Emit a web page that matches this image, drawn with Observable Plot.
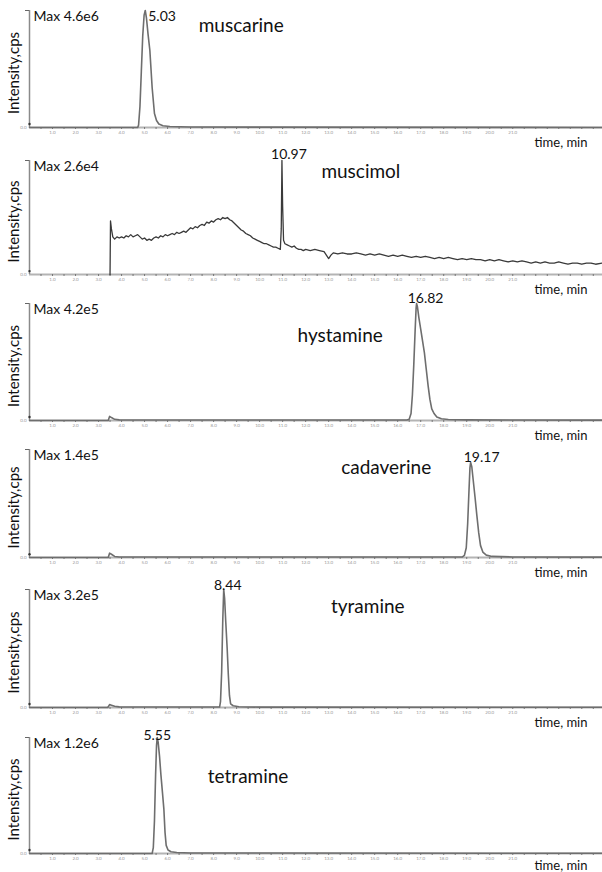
<!DOCTYPE html>
<html><head><meta charset="utf-8">
<script src="https://cdn.jsdelivr.net/npm/d3@7"></script>
<script src="https://cdn.jsdelivr.net/npm/@observablehq/plot@0.6"></script>
<style>body{margin:0;background:#fff;} #c svg{display:block;overflow:visible;}</style>
</head><body><div id="c"></div>
<script>
// ---- data ----
const compounds = ["muscarine", "muscimol", "hystamine", "cadaverine", "tyramine", "tetramine"];
const maxLabels = ["Max 4.6e6", "Max 2.6e4", "Max 4.2e5", "Max 1.4e5", "Max 3.2e5", "Max 1.2e6"];
const peakTimes = [5.03, 10.97, 16.82, 19.17, 8.44, 5.55];
const peakHeights = [100, 100, 100, 88, 100, 100];
const peakLabels = ["5.03", "10.97", "16.82", "19.17", "8.44", "5.55"];
const timeTicks = [1,2,3,4,5,6,7,8,9,10,11,12,13,14,15,16,17,18,19,20,21,22,23,24];
const minorTicks = [0.5,1.5,2.5,3.5,4.5,5.5,6.5,7.5,8.5,9.5,10.5,11.5,12.5,13.5,14.5,15.5,16.5,17.5,18.5,19.5,20.5,21.5,22.5,23.5,24.5];

// traces: time (min) and intensity (% of panel max)
const muscarineT = [0, 4.70, 4.74, 4.80, 4.86, 4.92, 4.98, 5.03, 5.08, 5.15, 5.23, 5.33, 5.43, 5.52, 5.62, 5.80, 6.10, 7.0, 24.9];
const muscarineI = [0, 0, 2, 18, 48, 78, 96, 100, 94, 80, 66, 34, 12, 6, 3, 1.5, 0.8, 0.4, 0];

const muscimolT = [3.50, 3.52, 3.56, 3.62, 3.7, 3.8, 3.9, 4.0, 4.1, 4.2, 4.3, 4.4, 4.5, 4.6, 4.7, 4.8, 4.9, 5.0, 5.1, 5.2, 5.3, 5.4, 5.5, 5.6, 5.7, 5.8, 5.9, 6.0, 6.1, 6.2, 6.3, 6.4, 6.5, 6.6, 6.7, 6.8, 6.9, 7.0, 7.1, 7.2, 7.3, 7.4, 7.5, 7.6, 7.7, 7.8, 7.9, 8.0, 8.1, 8.2, 8.3, 8.4, 8.5, 8.6, 8.7, 8.8, 8.9, 9.0, 9.1, 9.2, 9.3, 9.4, 9.5, 9.6, 9.7, 9.8, 9.9, 10.0, 10.1, 10.2, 10.3, 10.4, 10.5, 10.6, 10.7, 10.8, 10.9, 10.94, 10.97, 11.0, 11.04, 11.1, 11.2, 11.3, 11.4, 11.5, 11.6, 11.7, 11.8, 11.9, 12.0, 12.2, 12.4, 12.6, 12.8, 12.9, 13.0, 13.1, 13.2, 13.4, 13.6, 13.8, 14.0, 14.2, 14.4, 14.6, 14.8, 15.0, 15.2, 15.4, 15.6, 15.8, 16.0, 16.2, 16.4, 16.6, 16.8, 17.0, 17.2, 17.4, 17.6, 17.8, 18.0, 18.2, 18.4, 18.6, 18.8, 19.0, 19.2, 19.4, 19.6, 19.8, 20.0, 20.2, 20.4, 20.6, 20.8, 21.0, 21.2, 21.4, 21.6, 21.8, 22.0, 22.2, 22.4, 22.6, 22.8, 23.0, 23.2, 23.4, 23.6, 23.8, 24.0, 24.2, 24.4, 24.6, 24.9];
const muscimolI = [0, 47, 40, 33, 31, 33, 32, 33, 32, 34, 33, 35, 33, 34, 35, 33, 31, 32, 30, 31, 30, 32, 33, 32, 34, 33, 35, 34, 35, 36, 35, 37, 36, 37, 38, 37, 39, 41, 40, 42, 41, 43, 44, 43, 46, 45, 47, 46, 48, 49, 48, 50, 49, 50, 48, 47, 45, 43, 41, 39, 38, 36, 35, 34, 32, 31, 30, 29, 28, 27, 27, 26, 25, 24, 24, 23, 22, 40, 100, 60, 30, 27, 26, 25, 24, 25, 23, 22, 22, 21, 22, 21, 22, 21, 20, 17, 14, 17, 19, 18, 19, 18, 18, 19, 18, 17, 18, 17, 18, 17, 16, 17, 16, 17, 16, 15, 16, 15, 16, 15, 14, 15, 14, 15, 14, 13, 14, 13, 14, 13, 13, 12, 13, 12, 13, 12, 11, 12, 11, 12, 11, 10, 11, 10, 11, 10, 10, 11, 10, 9, 10, 10, 9, 10, 10, 9, 10];

const hystamineT = [0, 3.42, 3.48, 3.56, 3.70, 3.90, 16.40, 16.50, 16.58, 16.64, 16.70, 16.76, 16.80, 16.82, 16.86, 16.92, 17.00, 17.08, 17.16, 17.24, 17.32, 17.40, 17.48, 17.58, 17.70, 17.90, 18.20, 19.0, 24.9];
const hystamineI = [0, 0, 3.5, 2.5, 1, 0.5, 0.4, 1, 6, 22, 48, 78, 96, 100, 97, 88, 78, 68, 58, 44, 30, 18, 10, 6, 3, 1.5, 0.8, 0.5, 0.3];

const cadaverineT = [0, 3.42, 3.48, 3.56, 3.70, 3.90, 18.80, 18.90, 18.98, 19.04, 19.10, 19.14, 19.17, 19.22, 19.28, 19.36, 19.44, 19.52, 19.60, 19.70, 19.85, 20.10, 21.0, 24.9];
const cadaverineI = [0, 0, 4, 3, 1, 0.5, 0.4, 2, 9, 31, 63, 83, 88, 84, 72, 56, 39, 23, 11, 5, 2.2, 1, 0.5, 0.3];

const tyramineT = [0, 3.40, 3.48, 3.56, 3.70, 3.90, 8.26, 8.30, 8.35, 8.40, 8.44, 8.48, 8.53, 8.59, 8.64, 8.69, 8.74, 8.85, 9.10, 10.0, 24.9];
const tyramineI = [0, 0, 2.5, 2, 1, 0.5, 0.4, 5, 30, 75, 100, 92, 72, 50, 28, 10, 3, 1.5, 0.6, 0.3, 0.2];

const tetramineT = [0, 5.33, 5.38, 5.43, 5.48, 5.52, 5.55, 5.59, 5.65, 5.71, 5.78, 5.84, 5.89, 5.94, 6.02, 6.15, 6.40, 7.0, 24.9];
const tetramineI = [0, 0, 5, 28, 68, 93, 100, 96, 84, 68, 52, 38, 18, 7, 3, 1.5, 0.8, 0.4, 0.2];

const traceT = [muscarineT, muscimolT, hystamineT, cadaverineT, tyramineT, tetramineT];
const traceI = [muscarineI, muscimolI, hystamineI, cadaverineI, tyramineI, tetramineI];

// ---- layout (styles, not data) ----
const layout = [
  {h: 147, mt: 10, mb: 20, nameX: 9.2, nameY: 87, peakAnchor: "start", peakDx: 3, peakDy: 6, peakLine: "middle", stroke: "#6e6e6e", sw: 1.6, tdy: 15},
  {h: 145, mt: 13, mb: 18, nameX: 14.4, nameY: 90, peakAnchor: "middle", peakDx: 7, peakDy: -2, peakLine: "bottom", stroke: "#3a3a3a", sw: 1.3, tdy: 15},
  {h: 146, mt: 11, mb: 18, nameX: 13.5, nameY: 72, peakAnchor: "middle", peakDx: 9, peakDy: -1, peakLine: "bottom", stroke: "#6e6e6e", sw: 1.6, tdy: 15},
  {h: 140, mt: 11, mb: 21, nameX: 15.5, nameY: 83, peakAnchor: "middle", peakDx: 11, peakDy: 0, peakLine: "bottom", stroke: "#6e6e6e", sw: 1.6, tdy: 15},
  {h: 148, mt: 11, mb: 19, nameX: 14.7, nameY: 85, peakAnchor: "middle", peakDx: 4, peakDy: 0, peakLine: "bottom", stroke: "#6e6e6e", sw: 1.6, tdy: 15},
  {h: 146, mt: 11, mb: 19, nameX: 9.5, nameY: 66, peakAnchor: "middle", peakDx: 0, peakDy: 2, peakLine: "bottom", stroke: "#6e6e6e", sw: 1.6, tdy: 12}
];

const font = "Lato, 'Open Sans', sans-serif";
const container = document.getElementById("c");
const labelTicks = timeTicks.filter(d => d <= 21);

compounds.forEach((name, i) => {
  const L = layout[i];
  const data = traceT[i].map((t, k) => ({t, v: traceI[i][k]}));
  const peak = [{t: peakTimes[i], v: peakHeights[i], label: peakLabels[i]}];
  const svg = Plot.plot({
    width: 602, height: L.h,
    marginLeft: 29, marginRight: 0, marginTop: L.mt, marginBottom: L.mb,
    x: {domain: [0, 24.9]},
    y: {domain: [0, 100]},
    style: {fontFamily: font, background: "white", color: "#111"},
    marks: [
      Plot.ruleY([0], {stroke: "#b4b4b4", strokeWidth: 2}),
      Plot.axisX({ticks: minorTicks.concat(timeTicks), tickSize: 2, tickFormat: () => "", color: "#777", label: null}),
      Plot.axisX({ticks: labelTicks, tickSize: 0, tickPadding: 3, tickFormat: d3.format(".1f"), fontSize: 4.5, color: "#999", label: null}),
      Plot.ruleX([0], {y1: 0, y2: 100, stroke: "#8a8a8a", strokeWidth: 1.5}),
      Plot.axisY({ticks: [100], tickSize: 4, tickFormat: () => "", color: "#666", label: null}),
      Plot.axisY({ticks: [0], tickSize: 0, tickPadding: 3, tickFormat: () => "0.0", fontSize: 4.5, color: "#999", label: null}),
      Plot.dot([{t: 0, v: 3}], {x: "t", y: "v", r: 1.2, fill: "#333", stroke: null}),
      Plot.line(data, {x: "t", y: "v", stroke: L.stroke, strokeWidth: L.sw, curve: "linear"}),
      Plot.text([maxLabels[i]], {frameAnchor: "top-left", dx: 4, dy: 6, lineAnchor: "middle", textAnchor: "start", fontSize: 14, fill: "#111"}),
      Plot.text(peak, {x: "t", y: "v", text: "label", textAnchor: L.peakAnchor, dx: L.peakDx, dy: L.peakDy, lineAnchor: L.peakLine, fontSize: 14, fill: "#111"}),
      Plot.text([{t: L.nameX, v: L.nameY, name}], {x: "t", y: "v", text: "name", fontSize: 19, fill: "#111"}),
      Plot.text(["time, min"], {frameAnchor: "bottom-right", dx: -15, dy: L.tdy, lineAnchor: "middle", textAnchor: "end", fontSize: 13, fill: "#111"}),
      Plot.text(["Intensity,cps"], {frameAnchor: "left", dx: -15, dy: 4, rotate: -90, textAnchor: "middle", fontSize: 15, fill: "#111"})
    ]
  });
  container.appendChild(svg);
});
</script>
</body></html>
